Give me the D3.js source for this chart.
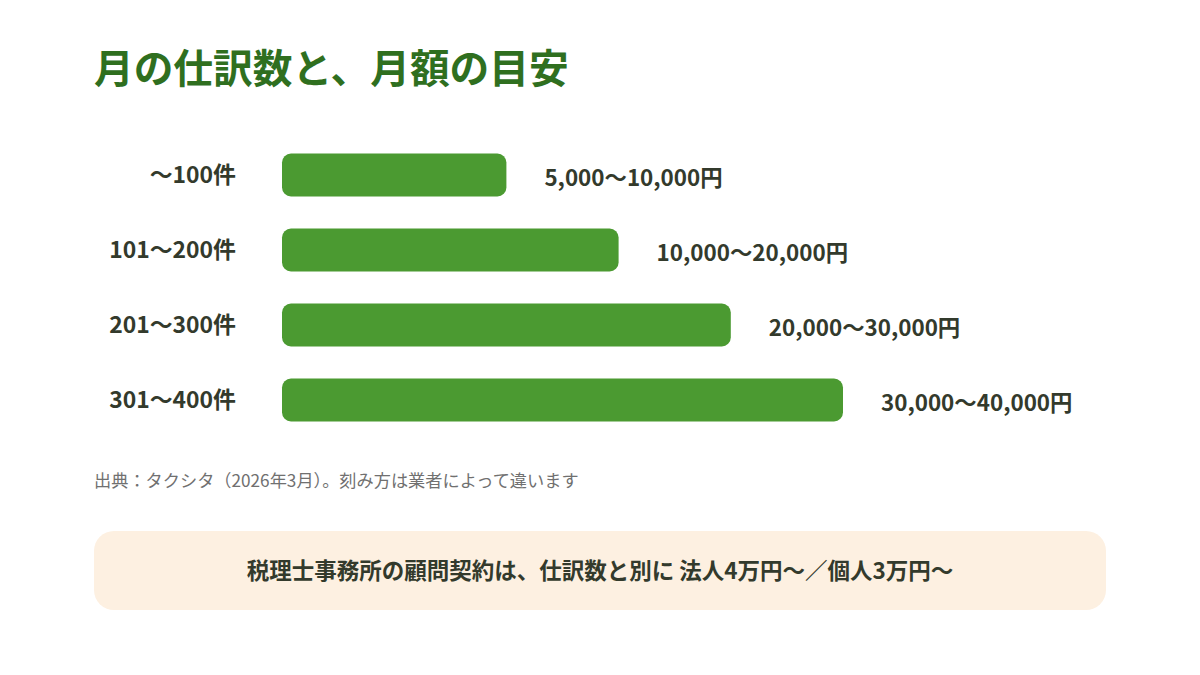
<!DOCTYPE html>
<html>
<head>
<meta charset="utf-8">
<script src="https://cdn.jsdelivr.net/npm/d3@7"></script>
<style>
  body { margin: 0; background: #fff; }
  svg { display: block; font-family: "Noto Sans CJK JP", "Noto Sans", sans-serif; }
</style>
</head>
<body>
<svg id="chart" width="1200" height="675"></svg>
<script>
// data
const categories = ["〜100件", "101〜200件", "201〜300件", "301〜400件"];
const priceLabels = ["5,000〜10,000円", "10,000〜20,000円", "20,000〜30,000円", "30,000〜40,000円"];
const barLengths = [40, 60, 80, 100]; // relative bar length, % of longest
const title = "月の仕訳数と、月額の目安";
const note = "出典：タクシタ（2026年3月）。刻み方は業者によって違います";
const callout = "税理士事務所の顧問契約は、仕訳数と別に 法人4万円〜／個人3万円〜";

const data = categories.map((c, i) => ({ category: c, value: barLengths[i], label: priceLabels[i] }));

const svg = d3.select("#chart");

// title
svg.append("text")
  .attr("x", 94)
  .attr("y", 83)
  .attr("fill", "#2f6f1f")
  .attr("font-size", 39.7)
  .attr("font-weight", 700)
  .text(title);

// scales
const xScale = d3.scaleLinear()
  .domain([0, 100])
  .range([282, 843]);

const yScale = d3.scaleBand()
  .domain(categories)
  .range([137.5, 437.5])
  .paddingInner(0.427)
  .paddingOuter(0.2135);

// bars
svg.selectAll(".bar")
  .data(data)
  .enter()
  .append("rect")
  .attr("class", "bar")
  .attr("x", xScale(0))
  .attr("y", (d) => yScale(d.category))
  .attr("width", (d) => xScale(d.value) - xScale(0))
  .attr("height", yScale.bandwidth())
  .attr("rx", 9)
  .attr("fill", "#4b9a31");

// category labels on the left
const yAxis = d3.axisLeft(yScale).tickSize(0).tickPadding(0);
const yg = svg.append("g")
  .attr("transform", "translate(236,0)")
  .call(yAxis);
yg.select(".domain").remove();
yg.selectAll("text")
  .attr("font-family", "\"Noto Sans CJK JP\", sans-serif")
  .attr("font-size", 22.9)
  .attr("font-weight", 700)
  .attr("fill", "#333a2c")
  .attr("dy", "0.35em");

// price labels at bar ends
svg.selectAll(".price")
  .data(data)
  .enter()
  .append("text")
  .attr("class", "price")
  .attr("x", (d) => xScale(d.value) + 38)
  .attr("y", (d) => yScale(d.category) + yScale.bandwidth() / 2 + 3)
  .attr("dy", "0.35em")
  .attr("font-size", 22.4)
  .attr("font-weight", 700)
  .attr("fill", "#333a2c")
  .text((d) => d.label);

// source note
svg.append("text")
  .attr("x", 94)
  .attr("y", 487)
  .attr("font-size", 17.2)
  .attr("fill", "#707070")
  .text(note);

// callout box
svg.append("rect")
  .attr("x", 94)
  .attr("y", 531)
  .attr("width", 1012)
  .attr("height", 79)
  .attr("rx", 20)
  .attr("fill", "#fdf0e1");

svg.append("text")
  .attr("x", 600)
  .attr("y", 571)
  .attr("dy", "0.35em")
  .attr("text-anchor", "middle")
  .attr("font-size", 22.5)
  .attr("font-weight", 700)
  .attr("fill", "#333a2c")
  .text(callout);
</script>
</body>
</html>
